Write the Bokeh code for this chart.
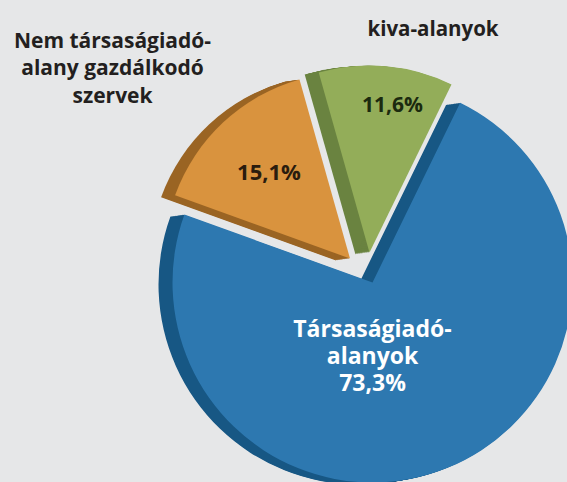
import numpy as np
from bokeh.plotting import figure
from bokeh.models import ColumnDataSource, Range1d, GlobalInlineStyleSheet
from bokeh.core.properties import value
from bokeh.embed import file_html
from bokeh.resources import INLINE

# ---------------- data ----------------
categories = ["Társaságiadó-\nalanyok",
              "Nem társaságiadó-\nalany gazdálkodó\nszervek",
              "kiva-alanyok"]
shares = [73.3, 15.1, 11.6]

# ---------------- style / layout ----------------
BG = "#e6e7e8"
face_colors = ["#2d78b0", "#d9933e", "#93ad59"]
side_colors = ["#175784", "#9a6423", "#6a8340"]
pct_colors = ["#ffffff", "#2a1c0e", "#1b2a0f"]
cat_colors = ["#ffffff", "#231f20", "#231f20"]
FONT = "Open Sans"

CX, CY = 372.0, 282.0          # pie centre (pixels, y down)
START = 26.0                   # compass angle where first slice starts
radii = [200.0, 186.0, 187.0]
explode = [(0.0, 0.0), (-22.5, -24.0), (-3.0, -30.0)]
SHIFT = (-14.0, 2.0)           # depth of the 3D side
NSTEP = 14

cat_pos = [(372.0, 327.5), (112.0, 39.3), (432.5, 27.3)]   # first baseline
cat_lh = [27.2, 27.5, 0.0]
cat_size = ["23px", "21px", "20.5px"]
pct_pos = [(372.0, 381.7), (268.5, 170.0), (392.0, 103.0)]
pct_size = ["23px", "22px", "21px"]

# ---------------- geometry from data ----------------
total = float(sum(shares))
spans = [s / total * 360.0 for s in shares]
t1 = [START + sum(spans[:i]) for i in range(len(shares))]
t2 = [a + s for a, s in zip(t1, spans)]
# compass (clockwise from up) -> bokeh math angle (ccw from +x)
start_ang = [np.radians(90.0 - b) for b in t2]
end_ang = [np.radians(90.0 - a) for a in t1]

sx, sy, sr, ss, se, sc = [], [], [], [], [], []
for i in range(len(shares)):
    for k in range(1, NSTEP + 1):
        f = k / NSTEP
        sx.append(CX + explode[i][0] + SHIFT[0] * f)
        sy.append(-(CY + explode[i][1] + SHIFT[1] * f))
        sr.append(radii[i]); ss.append(start_ang[i]); se.append(end_ang[i])
        sc.append(side_colors[i])
side_src = ColumnDataSource(dict(x=sx, y=sy, r=sr, s=ss, e=se, c=sc))

face_src = ColumnDataSource(dict(
    x=[CX + e[0] for e in explode],
    y=[-(CY + e[1]) for e in explode],
    r=radii, s=start_ang, e=end_ang, c=face_colors))

W, H = 567, 482
p = figure(width=W, height=H, output_backend="svg", toolbar_location=None,
           x_range=Range1d(0, W), y_range=Range1d(-H, 0),
           min_border=0, background_fill_color=BG, border_fill_color=BG,
           outline_line_color=None)
p.axis.visible = False
p.grid.visible = False
p.stylesheets = [GlobalInlineStyleSheet(css=f"html, body {{ background-color: {BG}; }}")]

p.wedge(x="x", y="y", radius="r", start_angle="s", end_angle="e",
        direction="anticlock", fill_color="c", line_color=None, source=side_src)
p.wedge(x="x", y="y", radius="r", start_angle="s", end_angle="e",
        direction="anticlock", fill_color="c", line_color=None, source=face_src)

# category labels
for i, cat in enumerate(categories):
    lines = cat.split("\n")
    xs = [cat_pos[i][0]] * len(lines)
    ys = [-(cat_pos[i][1] + j * cat_lh[i]) for j in range(len(lines))]
    p.text(x=xs, y=ys, text=lines, text_align="center", text_baseline="alphabetic",
           text_font=value(FONT), text_font_style="bold",
           text_font_size=cat_size[i], text_color=cat_colors[i])

# percentage labels
for i, v in enumerate(shares):
    lab = f"{v:.1f}%".replace(".", ",")
    p.text(x=[pct_pos[i][0]], y=[-pct_pos[i][1]], text=[lab],
           text_align="center", text_baseline="alphabetic",
           text_font=value(FONT), text_font_style="bold",
           text_font_size=pct_size[i], text_color=pct_colors[i])

open("out.html", "w").write(file_html(p, INLINE))
